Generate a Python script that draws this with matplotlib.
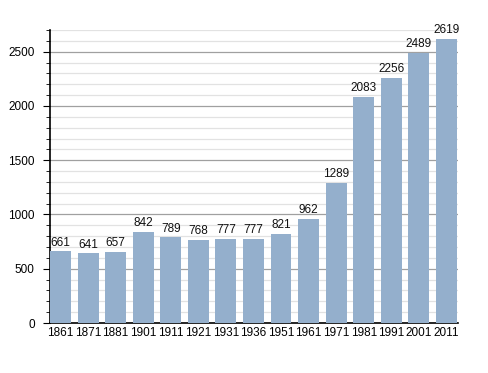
import matplotlib
matplotlib.use("Agg")
import matplotlib.pyplot as plt
from matplotlib.ticker import MultipleLocator

years = ["1861", "1871", "1881", "1901", "1911", "1921", "1931", "1936",
         "1951", "1961", "1971", "1981", "1991", "2001", "2011"]
population = [661, 641, 657, 842, 789, 768, 777, 777, 821, 962, 1289,
              2083, 2256, 2489, 2619]

plt.rcParams['font.family'] = ['Liberation Sans', 'DejaVu Sans']

fig = plt.figure(figsize=(4.88, 3.73), dpi=100)
ax = fig.add_axes([50/488, 50/373, 408/488, 293/373])

x = list(range(len(years)))
bars = ax.bar(x, population, width=0.76, color='#94AFCC', zorder=3)
for xi, v in zip(x, population):
    ax.text(xi, v + 25, str(v), ha='center', va='bottom', fontsize=8.5, color='#111111', zorder=4)

ax.set_xlim(-0.38, len(years) - 1 + 0.42)
ax.set_ylim(0, 2700)
ax.set_xticks(x)
ax.set_xticklabels(years)
ax.yaxis.set_major_locator(MultipleLocator(500))
ax.yaxis.set_minor_locator(MultipleLocator(100))
ax.grid(axis='y', which='major', color='#a0a0a0', linewidth=0.9, zorder=0)
ax.grid(axis='y', which='minor', color='#e2e2e2', linewidth=0.9, zorder=0)
ax.set_axisbelow(True)

for s in ['top', 'right']:
    ax.spines[s].set_visible(False)
ax.spines['left'].set_linewidth(1.2)
ax.spines['bottom'].set_linewidth(1.2)
ax.tick_params(axis='x', length=0, labelsize=8.5, pad=3)
ax.tick_params(axis='y', which='major', length=5, labelsize=8.5, pad=6)
ax.tick_params(axis='y', which='minor', length=3)

fig.savefig('out.png', dpi=100)
